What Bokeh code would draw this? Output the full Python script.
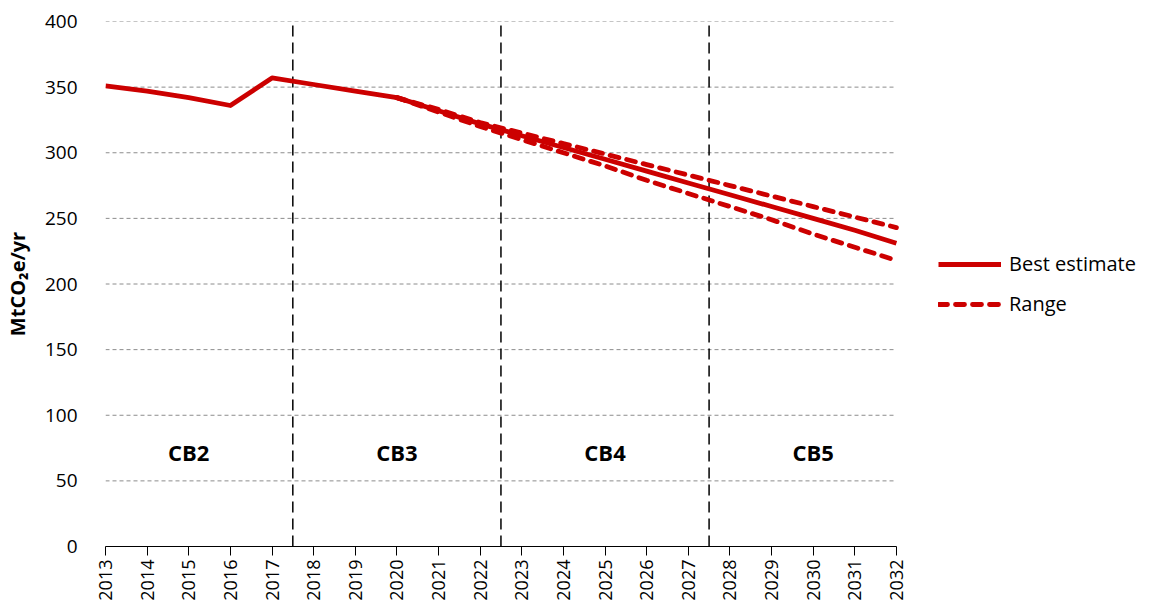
import math
from bokeh.plotting import figure
from bokeh.models import FixedTicker, Legend, LegendItem, Range1d, ColumnDataSource
from bokeh.core.properties import value
from bokeh.embed import file_html
from bokeh.resources import INLINE

# ---- data ----
years_best = list(range(2013, 2033))
best = [351, 347, 342, 336, 357, 352, 347, 342, 332, 322, 313, 304, 295, 286, 277, 268, 259, 250, 241, 231]
years_range = list(range(2020, 2033))
upper = [342, 333, 323, 315, 307, 299, 291, 283, 275, 267, 259, 251, 243]
lower = [342, 331, 320, 310, 300, 290, 279, 269, 259, 249, 238, 228, 218]
boundaries = [2017.5, 2022.5, 2027.5]
cb_labels = ["CB2", "CB3", "CB4", "CB5"]
cb_x = [2015, 2020, 2025, 2030]
cb_y = [72, 72, 72, 72]
y_ticks = [0, 50, 100, 150, 200, 250, 300, 350, 400]
x_start, x_end = 2013, 2032

RED = "#CC0000"
FONT = "Open Sans"

# frame extends to the right edge so the legend can sit beside the data area
p = figure(frame_width=1039, frame_height=525, output_backend="svg", toolbar_location=None,
           x_range=Range1d(x_start, 2037.96), y_range=Range1d(0, 400),
           min_border_left=96, min_border_top=21, min_border_right=0, min_border_bottom=50)
p.outline_line_color = None
p.background_fill_color = "white"
p.border_fill_color = "white"

# grid (drawn only over the data span)
p.xgrid.grid_line_color = None
p.ygrid.grid_line_color = None
gy = y_ticks[1:]
p.segment(x0=[x_start]*len(gy), y0=gy, x1=[x_end]*len(gy), y1=gy,
          line_color="#8c8c8c", line_width=1, line_dash="4 3")

# boundaries
p.segment(x0=boundaries, y0=[0]*len(boundaries), x1=boundaries, y1=[400]*len(boundaries),
          line_color="black", line_width=1.5, line_dash="11 6")

# lines
r_best = p.line(years_best, best, line_color=RED, line_width=4.8, line_join="round")
r_up = p.line(years_range, upper, line_color=RED, line_width=4.8, line_dash="9 8", line_cap="round")
r_lo = p.line(years_range, lower, line_color=RED, line_width=4.8, line_dash="9 8", line_cap="round")

# CB labels
src = ColumnDataSource(dict(x=cb_x, y=cb_y, t=cb_labels))
p.text(x="x", y="y", text="t", source=src, text_font=value(FONT), text_font_style="bold",
       text_font_size="22px", text_align="center", text_baseline="middle", text_color="black")

# axes
xa = p.xaxis[0]
xa.ticker = FixedTicker(ticks=years_best)
xa.bounds = (x_start, x_end)
xa.minor_tick_line_color = None
xa.major_tick_in = 0
xa.major_tick_out = 9
xa.major_tick_line_color = "black"
xa.axis_line_color = "black"
xa.axis_line_width = 1.2
xa.major_label_orientation = math.pi / 2
xa.major_label_text_font = FONT
xa.major_label_text_font_size = "18px"
xa.major_label_text_color = "black"
xa.major_label_standoff = 4

ya = p.yaxis[0]
ya.ticker = FixedTicker(ticks=y_ticks)
ya.axis_line_color = None
ya.major_tick_line_color = None
ya.minor_tick_line_color = None
ya.major_label_text_font = FONT
ya.major_label_text_font_size = "19px"
ya.major_label_text_color = "black"
ya.major_label_standoff = 22
ya.axis_label = "MtCO₂e/yr"
ya.axis_label_text_font = FONT
ya.axis_label_text_font_style = "bold"
ya.axis_label_text_font_size = "20px"
ya.axis_label_text_color = "black"
ya.axis_label_standoff = 11

legend = Legend(items=[LegendItem(label="Best estimate", renderers=[r_best]),
                       LegendItem(label="Range", renderers=[r_up])],
                location=(833, 229), border_line_color=None, background_fill_alpha=0,
                glyph_width=63, glyph_height=20, label_height=20, spacing=13,
                label_standoff=8, padding=0, margin=0,
                label_text_font=FONT, label_text_font_size="20px", label_text_color="black")
p.add_layout(legend, "center")

open("out.html", "w").write(file_html(p, INLINE))
